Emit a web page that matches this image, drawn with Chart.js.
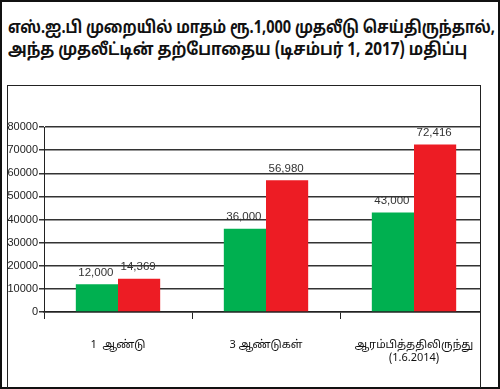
<!DOCTYPE html>
<html>
<head>
<meta charset="utf-8">
<script src="https://cdn.jsdelivr.net/npm/chart.js@4.4.0/dist/chart.umd.min.js"></script>
<style>
  body { margin: 0; background: #fff; }
  #wrap { position: relative; width: 500px; height: 389px; overflow: hidden; }
  #outer { position: absolute; left: 0; top: 0; width: 496px; height: 385px; border: 2px solid #111; }
  #title { position: absolute; left: 8px; top: 18px; font: bold 17px "Noto Sans Tamil", "Noto Sans", "DejaVu Sans", sans-serif; line-height: 22px; color: #111; white-space: nowrap; }
  #title div { transform-origin: 0 0; }
  #line1 { transform: scaleX(0.855); }
  #line2 { transform: scaleX(0.9); }
  #inner { position: absolute; left: 7px; top: 85px; width: 472px; height: 302px; border: 1px solid #222; border-bottom: none; z-index: 3; }
  #strip { position: absolute; left: 481px; top: 86px; width: 15px; height: 300px; background: #fff; z-index: 2; }
  canvas { position: absolute; left: 0; top: 0; z-index: 1; }
</style>
</head>
<body>
<div id="wrap">
  <div id="outer"></div>
  <div id="title"><div id="line1">எஸ்.ஐ.பி முறையில் மாதம் ரூ.1,000 முதலீடு செய்திருந்தால்,</div><div id="line2">அந்த முதலீட்டின் தற்போதைய (டிசம்பர் 1, 2017) மதிப்பு</div></div>
  <canvas id="chart1" width="500" height="389"></canvas>
  <div id="strip"></div>
  <div id="inner"></div>
</div>
<script>
// categories and values
const periods = ["1  ஆண்டு", "3 ஆண்டுகள்", ["ஆரம்பித்ததிலிருந்து", "(1.6.2014)"]];
const invested = [12000, 36000, 43000];
const currentValue = [14369, 56980, 72416];
const yTicks = [0, 10000, 20000, 30000, 40000, 50000, 60000, 70000, 80000];

const tamilFont = '"Noto Sans Tamil", "Noto Sans", "DejaVu Sans", sans-serif';
const numFont = '"Liberation Sans", Arial, sans-serif';

// numbers above the bars
const barLabels = {
    id: 'barLabels',
    afterDatasetsDraw(chart) {
        const ctx = chart.ctx;
        ctx.save();
        ctx.font = '11.5px ' + numFont;
        ctx.fillStyle = '#333';
        ctx.textAlign = 'center';
        ctx.textBaseline = 'bottom';
        chart.data.datasets.forEach(function (ds, i) {
            chart.getDatasetMeta(i).data.forEach(function (bar, j) {
                ctx.fillText(ds.data[j].toLocaleString('en-US'), bar.x - 1, bar.y - 6);
            });
        });
        ctx.restore();
    }
};

let myChart = new Chart(document.getElementById('chart1'), {
    type: 'bar',
    data: {
        labels: periods,
        datasets: [
            { label: 'invested', data: invested, backgroundColor: '#00B050' },
            { label: 'value', data: currentValue, backgroundColor: '#ED1C24' }
        ]
    },
    options: {
        responsive: false,
        animation: false,
        layout: { padding: { left: 0, top: 127, right: 12, bottom: 17 } },
        plugins: { legend: { display: false }, tooltip: { enabled: false } },
        datasets: { bar: { categoryPercentage: 0.57, barPercentage: 1.0 } },
        scales: {
            x: {
                afterFit(scale) { scale.height = 60; },
                grid: { offset: true, drawOnChartArea: false, drawTicks: true, tickLength: 7, color: '#222', lineWidth: 1 },
                border: { color: '#222', width: 1.5 },
                ticks: { color: '#111', padding: 20, font: { size: 11, family: tamilFont } }
            },
            y: {
                min: 0,
                max: 80000,
                afterFit(scale) { scale.width = 44; },
                afterBuildTicks(scale) { scale.ticks = yTicks.map(v => ({ value: v })); },
                grid: { color: '#333', lineWidth: 1.5, tickLength: 5 },
                border: { color: '#222', width: 1 },
                ticks: { color: '#222', padding: 1, font: { size: 11, family: numFont }, callback: v => String(v) }
            }
        }
    },
    plugins: [barLabels]
});
</script>
</body>
</html>
